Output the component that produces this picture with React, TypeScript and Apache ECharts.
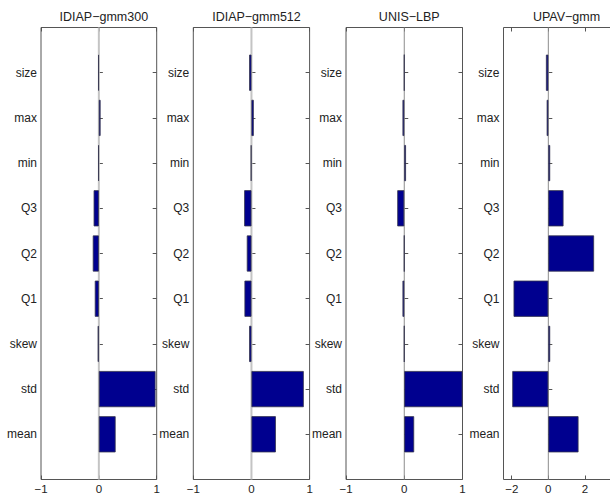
import React, { useEffect, useRef } from "react";
import * as echarts from "echarts";

// Categories, bottom to top
const categories = ["mean", "std", "skew", "Q1", "Q2", "Q3", "min", "max", "size"];

const titles = ["IDIAP−gmm300", "IDIAP−gmm512", "UNIS−LBP", "UPAV−gmm"];

const valuesIdiap300 = [0.29, 0.98, -0.02, -0.07, -0.105, -0.09, -0.01, 0.03, -0.01];
const valuesIdiap512 = [0.42, 0.9, -0.04, -0.12, -0.08, -0.125, -0.01, 0.04, -0.04];
const valuesUnisLbp = [0.17, 1.0, 0, -0.03, 0, -0.12, 0.03, -0.03, 0];
const valuesUpavGmm = [1.65, -1.97, 0.1, -1.9, 2.5, 0.83, 0.1, -0.09, -0.13];

const seriesValues = [valuesIdiap300, valuesIdiap512, valuesUnisLbp, valuesUpavGmm];

// x-axis ranges and tick values
const xMins = [-1, -1, -1, -2.45];
const xMaxs = [1, 1, 1, 3.89];
const xTicks = [
  [-1, 0, 1],
  [-1, 0, 1],
  [-1, 0, 1],
  [-2, 0, 2],
];

// layout (pixels)
const panelLefts = [41, 193.3, 346, 503.5];
const panelWidths = [115.7, 116.3, 116.5, 116];
const frameTop = 27.5;
const frameHeight = 452;
const zeroColors = ["#c4c4c4", "#c4c4c4", "#8c8c8c", "#8c8c8c"];
const zeroWidths = [2, 2, 1, 1];

const FONT = "'Liberation Sans', Arial, Helvetica, sans-serif";
const fmt = (v: number) => (v < 0 ? "\u2212" + Math.abs(v) : String(v));

export default function App() {
  const ref = useRef<HTMLDivElement>(null);
  useEffect(() => {
    if (!ref.current) return;
    const chart = echarts.init(ref.current, undefined, { renderer: "svg" });
    const grids: any[] = [];
    const xAxes: any[] = [];
    const yAxes: any[] = [];
    const series: any[] = [];
    const title: any[] = [];
    const unit = frameHeight / 10;
    for (let i = 0; i < 4; i++) {
      const left = panelLefts[i];
      const width = panelWidths[i];
      grids.push({
        left,
        top: frameTop,
        width,
        height: frameHeight,
        show: true,
        borderColor: "#555",
        borderWidth: 1,
        backgroundColor: "transparent",
        outerBoundsMode: "none",
        containLabel: false,
      });
      grids.push({
        left,
        top: frameTop + unit / 2,
        width,
        height: unit * 9,
        show: false,
        outerBoundsMode: "none",
        containLabel: false,
      });
      const tickCommon = {
        show: true,
        inside: true,
        length: 4,
        lineStyle: { color: "#555", width: 1 },
        customValues: xTicks[i],
      };
      xAxes.push({
        gridIndex: 2 * i,
        type: "value",
        position: "bottom",
        min: xMins[i],
        max: xMaxs[i],
        axisLine: { show: false },
        axisTick: tickCommon,
        splitLine: { show: false },
        axisLabel: {
          show: true,
          customValues: xTicks[i],
          formatter: fmt,
          color: "#222",
          fontSize: 11.5,
          lineHeight: 12,
          fontFamily: FONT,
          margin: 3,
        },
      });
      xAxes.push({
        gridIndex: 2 * i,
        type: "value",
        position: "top",
        min: xMins[i],
        max: xMaxs[i],
        axisLine: { show: false },
        axisTick: tickCommon,
        splitLine: { show: false },
        axisLabel: { show: false, customValues: xTicks[i] },
      });
      xAxes.push({
        gridIndex: 2 * i + 1,
        type: "value",
        min: xMins[i],
        max: xMaxs[i],
        show: false,
      });
      yAxes.push({
        gridIndex: 2 * i,
        type: "value",
        min: 0,
        max: 10,
        show: false,
      });
      const yTick = {
        show: true,
        inside: true,
        alignWithLabel: true,
        length: 4,
        lineStyle: { color: "#555", width: 1 },
      };
      yAxes.push({
        gridIndex: 2 * i + 1,
        type: "category",
        position: "left",
        data: categories,
        axisLine: { show: false },
        axisTick: yTick,
        splitLine: { show: false },
        axisLabel: {
          interval: 0,
          color: "#222",
          fontSize: 12,
          fontFamily: FONT,
          margin: 4,
        },
      });
      yAxes.push({
        gridIndex: 2 * i + 1,
        type: "category",
        position: "right",
        data: categories,
        axisLine: { show: false },
        axisTick: yTick,
        splitLine: { show: false },
        axisLabel: { show: false },
      });
      series.push({
        type: "line",
        xAxisIndex: 3 * i,
        yAxisIndex: 3 * i,
        data: [
          [0, 0],
          [0, 10],
        ],
        symbol: "none",
        silent: true,
        z: 1,
        lineStyle: { color: zeroColors[i], width: zeroWidths[i] },
      });
      series.push({
        type: "bar",
        xAxisIndex: 3 * i + 2,
        yAxisIndex: 3 * i + 1,
        data: seriesValues[i],
        barCategoryGap: "20%",
        z: 2,
        itemStyle: { color: "#00008f", borderColor: "#33334d", borderWidth: 0.8 },
      });
      title.push({
        text: titles[i],
        left: left + width / 2,
        top: 5,
        textAlign: "center",
        textStyle: { color: "#222", fontSize: 12.5, fontWeight: "normal", fontFamily: FONT },
      });
    }
    chart.setOption({
      animation: false,
      backgroundColor: "#fff",
      title,
      grid: grids,
      xAxis: xAxes,
      yAxis: yAxes,
      series,
    });
    return () => chart.dispose();
  }, []);
  return (
    <div
      ref={ref}
      style={{ position: "fixed", left: 0, top: 0, width: 610, height: 495 }}
    />
  );
}
